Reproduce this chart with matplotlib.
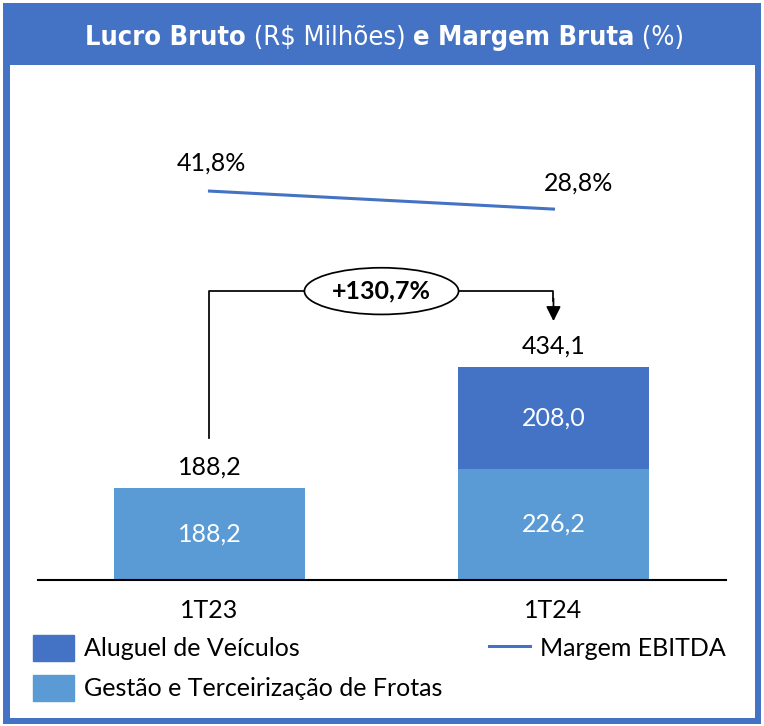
import matplotlib.pyplot as plt
from matplotlib.patches import Rectangle, Patch
from matplotlib.lines import Line2D

categories = ['1T23', '1T24']
gestao = [188.2, 226.2]
aluguel = [0.0, 208.0]
total = [188.2, 434.1]
margem = [41.8, 28.8]
variacao = '+130,7%'

azul = '#4472C4'
azul_claro = '#5B9BD5'
fonte = ['Lato', 'DejaVu Sans']
fs = 18

W, H = 764, 726
fig = plt.figure(figsize=(W/100, H/100), dpi=100)
plt.rcParams['font.family'] = fonte

def fx(x):
    return x / W

def fy(y):
    return 1 - y / H

def br(v):
    return f'{v:.1f}'.replace('.', ',')

# moldura azul + area branca
fig.patches.append(Rectangle((fx(3), fy(724)), fx(758), 721/H, transform=fig.transFigure,
                             facecolor=azul, edgecolor='none', zorder=-3))
fig.patches.append(Rectangle((fx(10), fy(718)), fx(745), 653/H, transform=fig.transFigure,
                             facecolor='white', edgecolor='none', zorder=-2))

# titulo com partes em negrito
partes = [('Lucro Bruto', 'bold'), (' (R$ Milhões) ', 'normal'),
          ('e Margem Bruta', 'bold'), (' (%)', 'normal')]
r = fig.canvas.get_renderer()
textos = []
for s, w in partes:
    t = fig.text(0, fy(45), s, color='white', fontsize=19.5, fontweight=w,
                 family='DejaVu Sans', fontstretch='condensed', va='baseline')
    textos.append(t)
larg = [t.get_window_extent(r).width for t in textos]
x = 384.5 - sum(larg) / 2
for t, lw_ in zip(textos, larg):
    t.set_x(fx(x))
    x += lw_

ax = fig.add_axes([fx(38), fy(580), 688/W, 500/H])
ax.set_facecolor('none')
xs = range(len(categories))
ax.bar(xs, gestao, width=0.555, color=azul_claro, zorder=2)
ax.bar(xs, aluguel, bottom=gestao, width=0.555, color=azul, zorder=2)
ax.set_xlim(-0.4985, 1.5015)
ax.set_ylim(0, 1018)
for s in ['top', 'left', 'right']:
    ax.spines[s].set_visible(False)
ax.spines['bottom'].set_linewidth(1.5)
ax.set_yticks([])
ax.set_xticks(list(xs))
ax.set_xticklabels(categories, fontsize=fs)
ax.tick_params(axis='x', length=0, pad=14)

for i in xs:
    ax.text(i, gestao[i] / 2, br(gestao[i]), ha='center',
            va='center', color='white', fontsize=fs)
    if aluguel[i] > 0:
        ax.text(i, gestao[i] + aluguel[i] / 2, br(aluguel[i]),
                ha='center', va='center', color='white', fontsize=fs)
    ax.annotate(br(total[i]), (i, total[i]), xytext=(0, 15),
                textcoords='offset points', ha='center', va='center', fontsize=fs)

# seta de variacao
y_ini = total[0] + 100
y_topo = total[0] + 400
y_ponta = total[1] + 93
ax.plot([0, 0, 1, 1], [y_ini, y_topo, y_topo, y_topo - 20], color='black', lw=1.25, zorder=3)
ax.annotate('', xy=(1, y_ponta), xytext=(1, y_topo - 15),
            arrowprops=dict(arrowstyle='-|>', mutation_scale=22, color='black',
                            lw=1.25, shrinkA=0, shrinkB=0))
ax.text(0.5, y_topo, variacao, ha='center', va='center', fontsize=fs, fontweight='bold',
        bbox=dict(boxstyle='ellipse,pad=0.2', fc='white', ec='black', lw=1.25), zorder=4)

ax2 = ax.twinx()
ax2.set_ylim(-239, 122)
ax2.axis('off')
ax2.plot(xs, margem, color=azul, lw=2.2)
ax2.annotate(br(margem[0]) + '%', (0, margem[0]), xytext=(1.5, 20),
             textcoords='offset points', ha='center', va='center', fontsize=fs)
ax2.annotate(br(margem[1]) + '%', (1, margem[1]), xytext=(18, 19),
             textcoords='offset points', ha='center', va='center', fontsize=fs)

handles = [Patch(color=azul, label='Aluguel de Veículos'),
           Patch(color=azul_claro, label='Gestão e Terceirização de Frotas'),
           Line2D([], [], color=azul, lw=2.2, label='Margem EBITDA')]
fig.legend(handles=handles, ncol=2, loc='upper left', bbox_to_anchor=(fx(33), fy(635)),
           frameon=False, fontsize=fs, handlelength=1.62, handleheight=1.22,
           handletextpad=0.4, columnspacing=1.9, labelspacing=0.55, borderpad=0,
           borderaxespad=0)

fig.savefig('out.png', dpi=100)
